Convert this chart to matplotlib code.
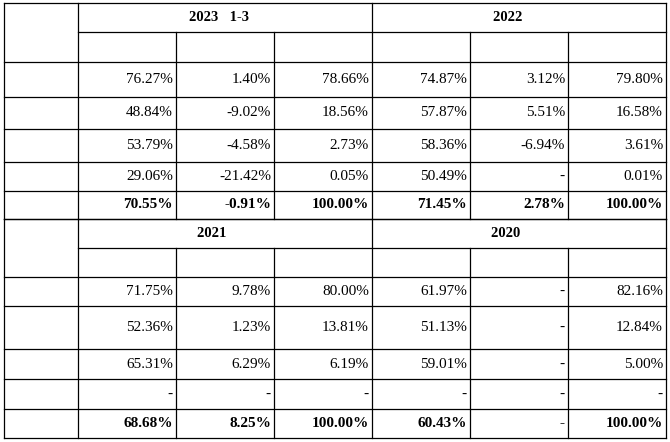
import matplotlib
matplotlib.use("Agg")
import matplotlib.pyplot as plt
from matplotlib import font_manager as fm

categories = ["植入物", "有源设备\n及耗材", "手术工具", "其他", "合计"]
periods_top = ["2023年1-3月", "2022年度"]
periods_bot = ["2021 年度", "2020 年度"]
sub_headers = ["毛利率", "毛利率变动", "收入占比"]
top_values = [
    ["76.27%", "1.40%", "78.66%", "74.87%", "3.12%", "79.80%"],
    ["48.84%", "-9.02%", "18.56%", "57.87%", "5.51%", "16.58%"],
    ["53.79%", "-4.58%", "2.73%", "58.36%", "-6.94%", "3.61%"],
    ["29.06%", "-21.42%", "0.05%", "50.49%", "-", "0.01%"],
    ["70.55%", "-0.91%", "100.00%", "71.45%", "2.78%", "100.00%"],
]
bot_values = [
    ["71.75%", "9.78%", "80.00%", "61.97%", "-", "82.16%"],
    ["52.36%", "1.23%", "13.81%", "51.13%", "-", "12.84%"],
    ["65.31%", "6.29%", "6.19%", "59.01%", "-", "5.00%"],
    ["-", "-", "-", "-", "-", "-"],
    ["68.68%", "8.25%", "100.00%", "60.43%", "-", "100.00%"],
]

CJK = "Noto Sans CJK SC"
for f in fm.fontManager.ttflist:
    if "CJK" in f.name and "SC" in f.name:
        CJK = f.name
        break
NUM = "Liberation Serif"

W, H = 670, 442
fig = plt.figure(figsize=(W/100, H/100), dpi=100)
ax = fig.add_axes([0, 0, 1, 1])
ax.set_xlim(0, W); ax.set_ylim(H, 0); ax.axis('off')

cols = [4, 78, 176, 274, 372, 470, 568, 666]
lw = 0.9
fs = 10.5

def cjk(x, y, s, bold, **kw):
    ax.text(x, y, s, ha='center', va='center', fontsize=fs,
            fontfamily=[NUM, CJK], fontweight='bold' if bold else 'normal', **kw)

def table(y0, ymid, yh, rows, periods, values):
    yb = rows[-1]
    for x in cols:
        if x in (cols[0], cols[1], cols[4], cols[7]):
            ax.plot([x, x], [y0, yb], color='k', lw=lw)
        else:
            ax.plot([x, x], [ymid, yb], color='k', lw=lw)
    ax.plot([cols[0], cols[-1]], [y0, y0], color='k', lw=lw)
    ax.plot([cols[1], cols[-1]], [ymid, ymid], color='k', lw=lw)
    for y in [yh] + rows:
        ax.plot([cols[0], cols[-1]], [y, y], color='k', lw=lw)
    cjk((cols[0]+cols[1])/2, (y0+yh)/2, "类别", True)
    for i, p in enumerate(periods):
        cjk((cols[1+3*i]+cols[4+3*i])/2, (y0+ymid)/2, p, True)
        for j, s in enumerate(sub_headers):
            c = 1+3*i+j
            cjk((cols[c]+cols[c+1])/2, (ymid+yh)/2, s, True)
    prev = yh
    for r, (cat, vals) in enumerate(zip(categories, values)):
        y = (prev + rows[r]) / 2
        bold = r == len(categories)-1
        cjk((cols[0]+cols[1])/2, y, cat, bold, linespacing=1.1)
        for c, v in enumerate(vals):
            ax.text(cols[c+2]-3, y, v, ha='right', va='center', fontsize=fs+0.5,
                    fontfamily=NUM, fontweight='bold' if bold else 'normal')
        prev = rows[r]

table(3, 32, 62, [97, 129, 162, 191, 219], periods_top, top_values)
table(219, 248, 277, [306, 349, 379, 409, 438], periods_bot, bot_values)

fig.savefig("out.png", dpi=100)
